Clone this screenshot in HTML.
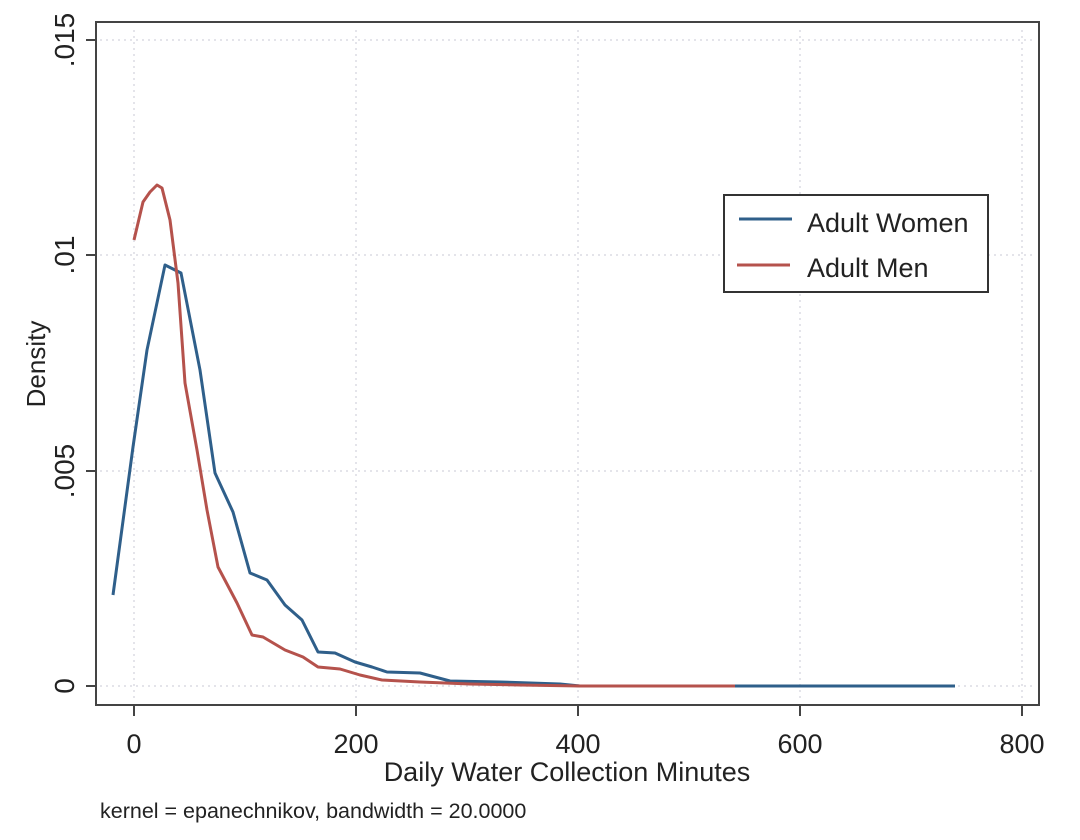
<!DOCTYPE html>
<html><head><meta charset="utf-8"><style>body{margin:0;background:#fff}svg{display:block}text{font-family:"Liberation Sans",Arial,sans-serif;fill:#222}</style></head>
<body>
<svg width="1080" height="840" viewBox="0 0 1080 840">
<rect x="0" y="0" width="1080" height="840" fill="#fff"/>
<g stroke="#dcdce4" stroke-width="1.5" stroke-dasharray="2,4">
<line x1="134" y1="30" x2="134" y2="700"/>
<line x1="356" y1="30" x2="356" y2="700"/>
<line x1="578" y1="30" x2="578" y2="700"/>
<line x1="800" y1="30" x2="800" y2="700"/>
<line x1="1022" y1="30" x2="1022" y2="700"/>
<line x1="100" y1="686" x2="1034" y2="686"/>
<line x1="100" y1="471" x2="1034" y2="471"/>
<line x1="100" y1="255" x2="1034" y2="255"/>
<line x1="100" y1="40" x2="1034" y2="40"/>
</g>
<rect x="96" y="22" width="943" height="683" fill="none" stroke="#444" stroke-width="2"/>
<g stroke="#444" stroke-width="2">
<line x1="86" y1="40" x2="96" y2="40"/><line x1="86" y1="255" x2="96" y2="255"/>
<line x1="86" y1="471" x2="96" y2="471"/><line x1="86" y1="686" x2="96" y2="686"/>
<line x1="134" y1="705" x2="134" y2="716"/><line x1="356" y1="705" x2="356" y2="716"/>
<line x1="578" y1="705" x2="578" y2="716"/><line x1="800" y1="705" x2="800" y2="716"/>
<line x1="1022" y1="705" x2="1022" y2="716"/>
</g>
<g font-size="27" text-anchor="middle">
<text transform="translate(74,40) rotate(-90)" font-size="28">.015</text>
<text transform="translate(74,255) rotate(-90)" font-size="28">.01</text>
<text transform="translate(74,471) rotate(-90)" font-size="28">.005</text>
<text transform="translate(74,686) rotate(-90)" font-size="28">0</text>
<text x="134" y="753">0</text><text x="356" y="753">200</text><text x="578" y="753">400</text>
<text x="800" y="753">600</text><text x="1022" y="753">800</text>
<text x="567" y="781">Daily Water Collection Minutes</text>
<text transform="translate(45,364) rotate(-90)" font-size="26">Density</text>
</g>
<text x="100" y="818" font-size="21.5">kernel = epanechnikov, bandwidth = 20.0000</text>
<polyline fill="none" stroke="#2f5f8a" stroke-width="3" stroke-linejoin="round" points="113,595 133,447 147,350 165,265 181,273 200,370 215,473 233,512 250,573 267,580 285,605 302,620 318,652 335,653 355,662 372,667 387,672 420,673 450,681 500,682 560,684 580,686 740,686 955,686"/>
<polyline fill="none" stroke="#b5524c" stroke-width="3" stroke-linejoin="round" points="134,240 143,202 150,192 157,185 162,188 170,220 178,283 185,383 197,450 207,510 218,567 237,603 252,635 263,637 285,650 303,657 318,667 340,669 360,675 382,680 420,682 470,684 520,685 580,686 735,686"/>
<rect x="724" y="195" width="264" height="97" fill="#fff" stroke="#333" stroke-width="2"/>
<line x1="739" y1="219" x2="792" y2="219" stroke="#2f5f8a" stroke-width="3"/>
<line x1="737" y1="265" x2="790" y2="265" stroke="#b5524c" stroke-width="3"/>
<text x="807" y="232" font-size="27">Adult Women</text>
<text x="807" y="277" font-size="27">Adult Men</text>
</svg>
</body></html>
